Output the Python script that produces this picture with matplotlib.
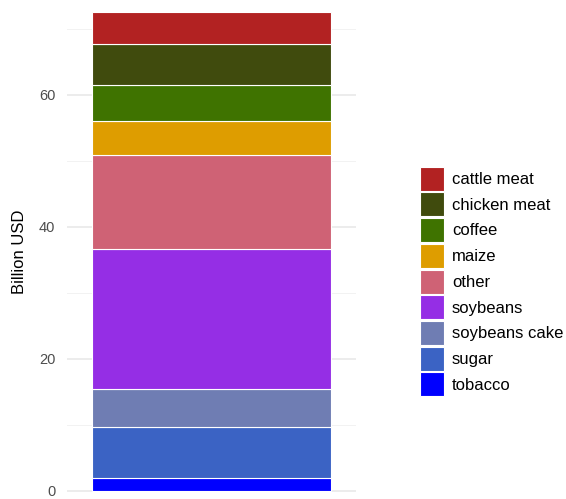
import matplotlib
matplotlib.use("Agg")
import matplotlib.pyplot as plt
from matplotlib.patches import Patch

plt.rcParams['font.family'] = ['Liberation Sans', 'DejaVu Sans']

categories = ["tobacco", "sugar", "soybeans cake", "soybeans", "other",
              "maize", "coffee", "chicken meat", "cattle meat"]
values = [2.0, 7.7, 5.8, 21.1, 14.3, 5.1, 5.5, 6.2, 4.9]
colors = ["#0000FF", "#3B63C4", "#6F7DB3", "#952EE5", "#CF6275",
          "#DE9D00", "#3F7300", "#404B0D", "#B22222"]
yticks = [0, 20, 40, 60]

W, H = 566, 499
fig = plt.figure(figsize=(W / 100, H / 100), dpi=100)
ax_l, ax_r, ax_t, ax_b = 67, 356, 6, 496
ax = fig.add_axes([ax_l / W, 1 - ax_b / H, (ax_r - ax_l) / W, (ax_b - ax_t) / H])

scale = 6.6
ax.set_ylim(-(ax_b - 491) / scale, (491 - ax_t) / scale)
ax.set_xlim(-0.545, 0.545)

bottom = 0
for cat, v, c in zip(categories, values, colors):
    ax.bar(0, v, bottom=bottom, width=0.9, color=c, edgecolor="white",
           linewidth=0.8, zorder=3)
    bottom += v

ax.set_yticks(yticks)
ax.set_yticks([10, 30, 50, 70], minor=True)
ax.grid(axis="y", which="major", color="#EBEBEB", linewidth=1.3, zorder=0)
ax.grid(axis="y", which="minor", color="#F2F2F2", linewidth=0.7, zorder=0)
ax.set_xticks([])
ax.tick_params(axis="y", which="both", length=0, labelsize=10.5,
               labelcolor="#4D4D4D", pad=8.5)
for s in ax.spines.values():
    s.set_visible(False)
fig.text(20 / W, 1 - 252 / H, "Billion USD", rotation=90, ha="center",
         va="center", fontsize=12, color="black")

fs_px = 12 * 100 / 72
key = 24 / fs_px
hh = (key - 0.245) / 0.65
handles = [Patch(facecolor=c, edgecolor="white", linewidth=0.8, label=cat)
           for cat, c in zip(categories[::-1], colors[::-1])]
fig.legend(handles=handles, loc="center left",
           bbox_to_anchor=(420 / W, 1 - 281.5 / H), frameon=False,
           fontsize=12, handlelength=key, handleheight=hh,
           handletextpad=8 / fs_px, labelspacing=1.7 / fs_px, borderpad=0,
           borderaxespad=0)

fig.savefig("out.png", dpi=100)
